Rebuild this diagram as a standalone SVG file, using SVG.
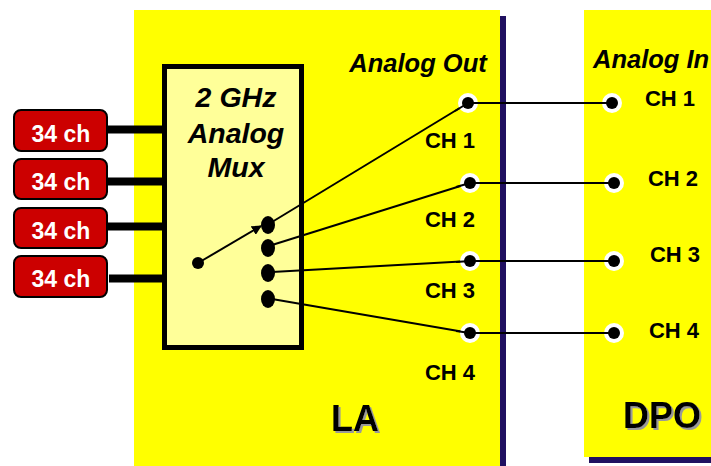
<svg xmlns="http://www.w3.org/2000/svg" width="711" height="466" viewBox="0 0 711 466">
<style>
.bi{font-family:"Liberation Sans",Arial,sans-serif;font-weight:bold;font-style:italic;fill:#000}
.ch{font-family:"Liberation Sans",Arial,sans-serif;font-weight:bold;font-size:22px;fill:#000}
.red rect{fill:#CC0000;stroke:#000;stroke-width:2}
.red text{font-family:"Liberation Sans",Arial,sans-serif;font-weight:bold;font-size:23px;fill:#fff;text-anchor:middle}
.bus{stroke:#000;stroke-width:8}
.wire{stroke:#000;stroke-width:2;fill:none}
.big{font-family:"Liberation Sans",Arial,sans-serif;font-weight:bold;font-size:36px;fill:#000;filter:url(#sh)}
</style>
<defs>
<filter id="sh" x="-20%" y="-20%" width="140%" height="140%">
<feOffset in="SourceAlpha" dx="2" dy="2" result="o"/>
<feFlood flood-color="#999999"/>
<feComposite in2="o" operator="in" result="s"/>
<feMerge><feMergeNode in="s"/><feMergeNode in="SourceGraphic"/></feMerge>
</filter>
<marker id="ah" markerWidth="10" markerHeight="10" refX="9" refY="5" orient="auto" markerUnits="userSpaceOnUse" viewBox="0 0 10 10">
<path d="M0,0 L10,5 L0,10 Z" fill="#000"/>
</marker>
<g id="t"><circle r="10" fill="#fff"/><circle r="6" fill="#000"/></g>
</defs>
<rect width="711" height="466" fill="#fff"/>

<g id="la">
<rect x="500" y="16" width="6" height="450" fill="#201060"/>
<rect x="134" y="10" width="366" height="456" fill="#FFFF00"/>
<text class="bi" x="418" y="72" font-size="25.5" text-anchor="middle">Analog Out</text>
<text class="ch" x="450" y="148" text-anchor="middle">CH 1</text>
<text class="ch" x="450" y="227" text-anchor="middle">CH 2</text>
<text class="ch" x="450" y="298" text-anchor="middle">CH 3</text>
<text class="ch" x="450" y="380" text-anchor="middle">CH 4</text>
<text class="big" x="355" y="431" text-anchor="middle">LA</text>
</g>

<g id="dpo">
<rect x="589" y="457" width="122" height="6" fill="#201060"/>
<rect x="584" y="10" width="127" height="447" fill="#FFFF00"/>
<text class="bi" x="593" y="68" font-size="25.5">Analog In</text>
<text class="ch" x="670" y="106" text-anchor="middle">CH 1</text>
<text class="ch" x="673" y="186" text-anchor="middle">CH 2</text>
<text class="ch" x="675" y="262" text-anchor="middle">CH 3</text>
<text class="ch" x="674" y="338" text-anchor="middle">CH 4</text>
<text class="big" x="662" y="428" text-anchor="middle">DPO</text>
</g>

<g id="mux">
<rect x="164.5" y="66.5" width="137" height="281" fill="#FFFF99" stroke="#000" stroke-width="5"/>
<text class="bi" x="236" y="107" font-size="28.5" text-anchor="middle">2 GHz</text>
<text class="bi" x="236" y="143" font-size="28.5" text-anchor="middle">Analog</text>
<text class="bi" x="236" y="177" font-size="28.5" text-anchor="middle">Mux</text>
<ellipse cx="268" cy="225" rx="7" ry="9" fill="#000"/>
<ellipse cx="268" cy="248" rx="7" ry="9" fill="#000"/>
<ellipse cx="268" cy="273" rx="7" ry="9" fill="#000"/>
<ellipse cx="268" cy="299" rx="7" ry="9" fill="#000"/>
<circle cx="198" cy="263" r="6" fill="#000"/>
</g>

<g id="in1" class="red"><rect x="14" y="110" width="93" height="41" rx="7"/><text x="61" y="142">34 ch</text></g>
<g id="in2" class="red"><rect x="14" y="159" width="93" height="40" rx="7"/><text x="61" y="190">34 ch</text></g>
<g id="in3" class="red"><rect x="14" y="208" width="93" height="40" rx="7"/><text x="61" y="239">34 ch</text></g>
<g id="in4" class="red"><rect x="14" y="256" width="93" height="41" rx="7"/><text x="61" y="287">34 ch</text></g>

<g id="connectors">
<line class="bus" x1="107" y1="129.5" x2="164" y2="129.5"/>
<line class="bus" x1="107" y1="181.5" x2="164" y2="181.5"/>
<line class="bus" x1="107" y1="226.5" x2="164" y2="226.5"/>
<line class="bus" x1="109" y1="278.5" x2="164" y2="278.5"/>
<line class="wire" x1="198" y1="263" x2="261" y2="226" marker-end="url(#ah)" stroke-width="2.5"/>
<line class="wire" x1="272" y1="222" x2="468" y2="103"/>
<line class="wire" x1="272" y1="245" x2="470" y2="183"/>
<line class="wire" x1="272" y1="272" x2="470" y2="261"/>
<line class="wire" x1="272" y1="299" x2="470" y2="333"/>
</g>

<g id="terminals">
<use href="#t" x="468" y="103"/>
<use href="#t" x="470" y="183"/>
<use href="#t" x="470" y="261"/>
<use href="#t" x="470" y="333"/>
<use href="#t" x="612" y="103"/>
<use href="#t" x="614" y="183"/>
<use href="#t" x="614" y="261"/>
<use href="#t" x="614" y="333"/>
</g>
<g id="connectors-over">
<line class="wire" x1="468" y1="103" x2="612" y2="103"/>
<line class="wire" x1="470" y1="183" x2="614" y2="183"/>
<line class="wire" x1="470" y1="261" x2="614" y2="261"/>
<line class="wire" x1="470" y1="333" x2="614" y2="333"/>
<line class="wire" x1="455" y1="111" x2="468" y2="103"/>
<line class="wire" x1="456" y1="187" x2="470" y2="183"/>
<line class="wire" x1="456" y1="262" x2="470" y2="261"/>
<line class="wire" x1="456" y1="331" x2="470" y2="333"/>
</g>
</svg>
